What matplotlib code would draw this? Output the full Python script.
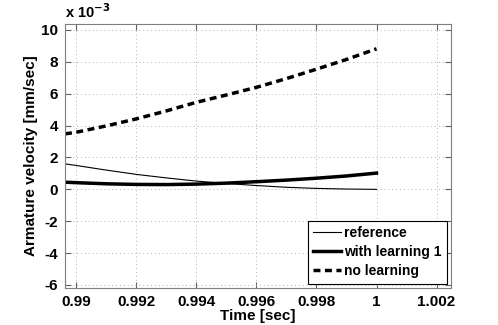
import matplotlib.pyplot as plt
import numpy as np
from matplotlib.ticker import FuncFormatter

plt.rcParams['font.family'] = ['Liberation Sans', 'DejaVu Sans']
plt.rcParams['font.weight'] = 'bold'

# values (velocity in mm/sec)
t = [0.98963, 0.990, 0.991, 0.992, 0.993, 0.994, 0.995, 0.996, 0.997, 0.998, 0.999, 1.000]
reference = [1.60e-3, 1.50e-3, 1.21e-3, 0.94e-3, 0.72e-3, 0.52e-3, 0.37e-3, 0.24e-3, 0.13e-3, 0.06e-3, 0.02e-3, 0.0]
with_learning = [0.45e-3, 0.42e-3, 0.35e-3, 0.31e-3, 0.30e-3, 0.33e-3, 0.39e-3, 0.48e-3, 0.58e-3, 0.70e-3, 0.84e-3, 1.02e-3]
no_learning = [3.48e-3, 3.58e-3, 3.98e-3, 4.42e-3, 4.92e-3, 5.46e-3, 5.92e-3, 6.40e-3, 6.95e-3, 7.54e-3, 8.15e-3, 8.82e-3]

fig = plt.figure(figsize=(4.98, 3.25), dpi=100)
ax = fig.add_axes([65 / 498, 1 - 287.7 / 325, 386 / 498, 263.7 / 325])

ax.plot(t, reference, color="black", linewidth=0.8, label="reference")
ax.plot(t, with_learning, color="black", linewidth=2.5, label="with learning 1")
ax.plot(t, no_learning, color="black", linewidth=2.5, linestyle=(0, (2, 1.3)), label="no learning")

ax.set_xlim(0.98963, 1.00248)
ax.set_ylim(-6.17e-3, 10.375e-3)
ax.set_xticks([0.990, 0.992, 0.994, 0.996, 0.998, 1.000, 1.002])
ax.set_xticklabels(["0.99", "0.992", "0.994", "0.996", "0.998", "1", "1.002"])
ax.set_yticks(np.arange(-6, 11, 2) * 1e-3)
ax.yaxis.set_major_formatter(FuncFormatter(lambda v, p: "%d" % round(v * 1e3)))
ax.text(0, 1.01, "x 10$^{\\mathbf{-3}}$", transform=ax.transAxes, fontsize=10.5, fontweight="bold",
        ha="left", va="bottom")

ax.grid(True, linestyle=(0, (1, 3)), color="#b0b0b0", linewidth=0.7)
ax.tick_params(direction="in", top=True, right=True, labelsize=11, length=4, color="#606060", pad=5)
for s in ax.spines.values():
    s.set_color("#7f7f7f")

ax.set_xlabel("Time [sec]", fontsize=11, fontweight="bold", labelpad=0)
ax.set_ylabel("Armature velocity [mm/sec]", fontsize=11, fontweight="bold", labelpad=2)

leg = ax.legend(loc="lower right", fontsize=10, fancybox=False, framealpha=1, edgecolor="black",
                handlelength=2.0, handletextpad=0.2, borderpad=0.4, labelspacing=0.35,
                borderaxespad=0.3)
leg.get_frame().set_linewidth(0.8)

plt.savefig("out.png", dpi=100)
